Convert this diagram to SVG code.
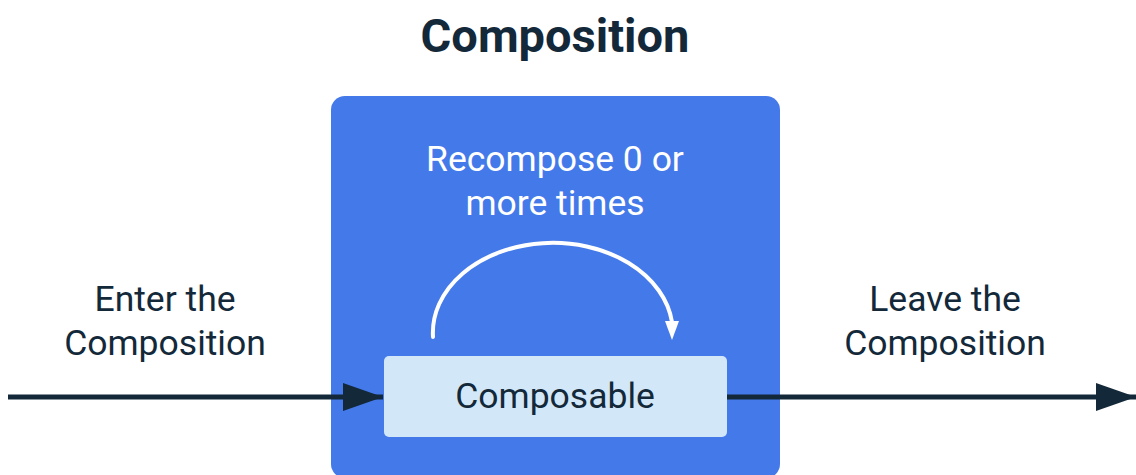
<svg xmlns="http://www.w3.org/2000/svg" width="1136" height="475" viewBox="0 0 1136 475">
  <style>
    text { font-family: Roboto, "Liberation Sans", sans-serif; text-anchor: middle; }
    .title { font-size: 47px; font-weight: 700; fill: #13293a; }
    .label { font-size: 35.5px; fill: #13293a; }
    .inner { font-size: 35.5px; fill: #ffffff; }
    .flow { stroke: #13293a; stroke-width: 5; fill: none; }
    .loop { stroke: #ffffff; stroke-width: 4; fill: none; stroke-linecap: round; }
  </style>
  <defs>
    <marker id="headDark" markerUnits="userSpaceOnUse" markerWidth="40" markerHeight="30" refX="40" refY="14" orient="auto">
      <path d="M0,0 L40,14 L0,28 Z" fill="#13293a"/>
    </marker>
    <marker id="headLight" markerUnits="userSpaceOnUse" markerWidth="16" markerHeight="20" refX="8" refY="1" orient="0">
      <path d="M1,0 L15,0 L8,19 Z" fill="#ffffff"/>
    </marker>
  </defs>

  <rect width="1136" height="475" fill="#ffffff"/>

  <text class="title" x="555" y="52">Composition</text>

  <g id="composition">
    <rect x="331" y="96" width="449" height="382" rx="14" fill="#4479ea"/>
    <text class="inner" x="555" y="171">Recompose 0 or</text>
    <text class="inner" x="555" y="215">more times</text>
  </g>

  <g id="enter-label">
    <text class="label" x="165" y="311">Enter the</text>
    <text class="label" x="165" y="355">Composition</text>
  </g>

  <g id="leave-label">
    <text class="label" x="945" y="311">Leave the</text>
    <text class="label" x="945" y="355">Composition</text>
  </g>

  <g id="connectors">
    <line class="flow" x1="8" y1="397" x2="383" y2="397" marker-end="url(#headDark)"/>
    <line class="flow" x1="727" y1="397" x2="1136" y2="397" marker-end="url(#headDark)"/>
    <path class="loop" d="M433,337 A120,90 0 0 1 672,322" marker-end="url(#headLight)"/>
  </g>

  <g id="composable">
    <rect x="384" y="356" width="343" height="81" rx="5" fill="#d2e8f9"/>
    <text class="label" x="555" y="408">Composable</text>
  </g>
</svg>
